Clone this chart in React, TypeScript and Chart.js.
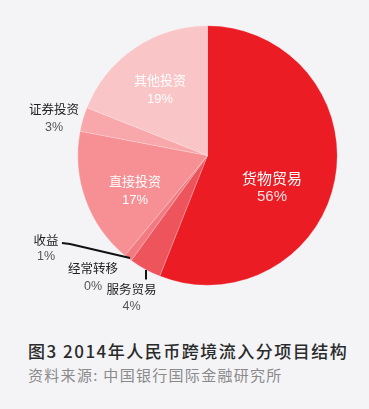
import React, { useEffect, useRef } from "react";
import { Chart, registerables } from "chart.js";

Chart.register(...registerables);

const categories = ["货物贸易", "服务贸易", "收益", "经常转移", "直接投资", "证券投资", "其他投资"];
const values = [56, 4, 1, 0, 17, 3, 19];
const percentLabels = ["56%", "4%", "1%", "0%", "17%", "3%", "19%"];
const colors = ["#EC1C24", "#EE545C", "#F37A80", "#F48488", "#F69094", "#F8A7AA", "#F9C5C7"];

const TITLE = "图3 2014年人民币跨境流入分项目结构";
const SOURCE = "资料来源: 中国银行国际金融研究所";

// label layout (offsets from pie center, in px), kept separate from data
const labelLayout = [
  { dx: 64.5, dy: 22.5, pdy: 41, color: "#ffffff", pcolor: "#fde3e4", size: 15 },
  { dx: -76, dy: 133.5, pdy: 151, color: "#222222", pcolor: "#555555", size: 12.5 },
  { dx: -161.5, dy: 84.5, pdy: 101.5, color: "#222222", pcolor: "#555555", size: 12.5 },
  { dx: -114.5, dy: 112.5, pdy: 131.5, color: "#222222", pcolor: "#555555", size: 12.5 },
  { dx: -72.5, dy: 26, pdy: 44.5, color: "#ffffff", pcolor: "#ffffff", size: 13 },
  { dx: -153.5, dy: -46.5, pdy: -27.5, color: "#222222", pcolor: "#555555", size: 12.5 },
  { dx: -47.5, dy: -75, pdy: -56.5, color: "#ffffff", pcolor: "#ffffff", size: 13 },
];

const leaderLines = [
  [[-145.5, 87.5], [-137.5, 88.5], [-77.5, 102.5]],
  [[-61.5, 114.5], [-61.5, 124]],
];

const labelPlugin = {
  id: "pieLabels",
  afterDatasetsDraw(chart: any) {
    const ctx = chart.ctx;
    const meta = chart.getDatasetMeta(0);
    const arc = meta.data[0];
    if (!arc) return;
    const cx = arc.x;
    const cy = arc.y;
    ctx.save();
    ctx.strokeStyle = "#111111";
    ctx.lineWidth = 2;
    leaderLines.forEach((pts) => {
      ctx.beginPath();
      pts.forEach((p, i) => {
        if (i === 0) ctx.moveTo(cx + p[0], cy + p[1]);
        else ctx.lineTo(cx + p[0], cy + p[1]);
      });
      ctx.stroke();
    });
    ctx.textAlign = "center";
    ctx.textBaseline = "middle";
    categories.forEach((name, i) => {
      const l = labelLayout[i];
      ctx.font = `${l.size}px "Noto Sans CJK SC", "Noto Sans", sans-serif`;
      ctx.fillStyle = l.color;
      ctx.fillText(name, cx + l.dx, cy + l.dy);
      ctx.font = `${l.size}px "Liberation Sans", "Noto Sans", sans-serif`;
      ctx.fillStyle = l.pcolor;
      ctx.fillText(percentLabels[i], cx + l.dx, cy + l.pdy);
    });
    ctx.restore();
  },
};

export default function App() {
  const canvasRef = useRef<HTMLCanvasElement | null>(null);

  useEffect(() => {
    if (!canvasRef.current) return;
    const chart = new Chart(canvasRef.current, {
      type: "pie",
      data: {
        labels: categories,
        datasets: [
          {
            data: values,
            backgroundColor: colors,
            borderWidth: 0.6,
            borderColor: "rgba(255,255,255,0.35)",
          },
        ],
      },
      options: {
        animation: false,
        responsive: false,
        maintainAspectRatio: false,
        layout: { padding: { left: 77.5, right: 31.5, top: 25.5, bottom: 34.5 } },
        plugins: {
          legend: { display: false },
          tooltip: { enabled: false },
          title: { display: false },
        },
      },
      plugins: [labelPlugin],
    });
    return () => chart.destroy();
  }, []);

  return (
    <div
      style={{
        position: "fixed",
        left: 0,
        top: 0,
        width: 369,
        height: 409,
        background: "#F4F4F7",
        overflow: "hidden",
      }}
    >
      <canvas ref={canvasRef} width={369} height={320} style={{ position: "absolute", left: 0, top: 0 }} />
      <div
        style={{
          position: "absolute",
          left: 28,
          top: 340,
          fontSize: 17,
          lineHeight: "22px",
          letterSpacing: "1.5px",
          color: "#2a2a2a",
          fontFamily: '"Noto Sans CJK SC", "Noto Sans", sans-serif',
          whiteSpace: "pre",
          fontWeight: 500,
        }}
      >
        {TITLE}
      </div>
      <div
        style={{
          position: "absolute",
          left: 28,
          top: 365,
          fontSize: 15,
          lineHeight: "20px",
          letterSpacing: "1.3px",
          color: "#8a8a8a",
          fontFamily: '"Noto Sans CJK SC", "Noto Sans", sans-serif',
          whiteSpace: "pre",
        }}
      >
        {SOURCE}
      </div>
    </div>
  );
}
